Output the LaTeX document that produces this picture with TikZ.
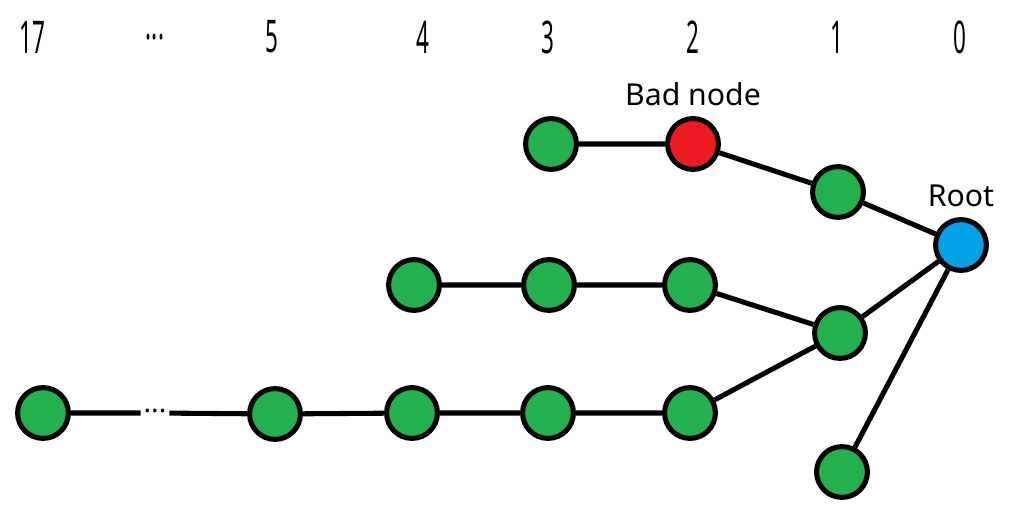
\documentclass[tikz,border=0pt]{standalone}
\usepackage{fontspec}
\setmainfont{Noto Sans}
\usetikzlibrary{positioning}

\begin{document}
\begin{tikzpicture}[
            x=0.025cm, y=-0.025cm,
            vert/.style={circle, draw=black, line width=3.6pt, minimum size=1.27cm, inner sep=0pt},
            good/.style={vert, fill=okgreen},
            bad/.style={vert, fill=badred},
            rootnode/.style={vert, fill=rootblue},
            edge/.style={line width=3.6pt},
            tag/.style={font=\fontsize{21.5}{26}\selectfont, inner sep=1pt}
        ]
        \definecolor{okgreen}{HTML}{22B14C}
        \definecolor{badred}{HTML}{ED1C24}
        \definecolor{rootblue}{HTML}{00A2E8}
        \newcommand{\depthlabel}[1]{\fontsize{32}{36}\selectfont\scalebox{0.5}[1]{#1}}

        \useasboundingbox (0,0) rectangle (1015,518);

        % depth labels
        \node (d17) at (32,37) {\depthlabel{17}};
        \node (ddots) at (155,37) {\depthlabel{...}};
        \node (d5) at (272,37) {\depthlabel{5}};
        \node (d4) at (423,37) {\depthlabel{4}};
        \node (d3) at (548,37) {\depthlabel{3}};
        \node (d2) at (693,37) {\depthlabel{2}};
        \node (d1) at (837,37) {\depthlabel{1}};
        \node (d0) at (960,37) {\depthlabel{0}};

        % root and its children
        \node[rootnode] (root) at (961,245) {};
        \node[good] (a1) at (838,192) {};
        \node[good] (b1) at (840,333) {};
        \node[good] (c1) at (842,472) {};

        % first branch
        \node[bad] (a2) at (693,144) {};
        \node[good] (a3) at (551,144) {};

        % second branch
        \node[good] (b2) at (690,285) {};
        \node[good] (b3) at (549,285) {};
        \node[good] (b4) at (414,285) {};

        % long branch
        \node[good] (e2) at (690,413) {};
        \node[good] (e3) at (548,413) {};
        \node[good] (e4) at (412,413) {};
        \node[good] (e5) at (275,414) {};
        \node[inner sep=2pt, font=\fontsize{20}{22}\selectfont\bfseries] (edots) at (155,413) {\raisebox{0.3ex}{...}};
        \node[good] (e17) at (43,413) {};

        \node[tag, above=6pt of a2] {Bad node};
        \node[tag, above=6pt of root] {Root};

        \draw[edge] (root) -- (a1) -- (a2) -- (a3);
        \draw[edge] (root) -- (b1) -- (b2) -- (b3) -- (b4);
        \draw[edge] (b1) -- (e2) -- (e3) -- (e4) -- (e5) -- (edots) -- (e17);
        \draw[edge] (root) -- (c1);

    \end{tikzpicture}
\end{document}
